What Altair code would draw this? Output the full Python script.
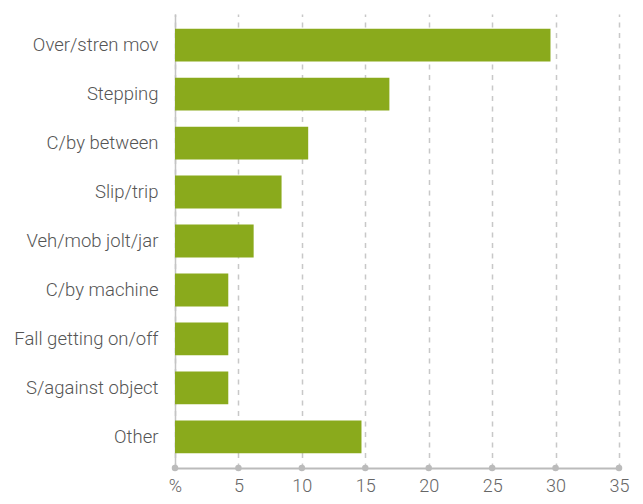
import altair as alt
import pandas as pd

categories = ["Over/stren mov", "Stepping", "C/by between", "Slip/trip",
              "Veh/mob jolt/jar", "C/by machine", "Fall getting on/off",
              "S/against object", "Other"]
values = [29.6, 16.9, 10.5, 8.4, 6.2, 4.2, 4.2, 4.2, 14.7]
tick_values = [0, 5, 10, 15, 20, 25, 30, 35]

bars_df = pd.DataFrame({"cat": categories, "pct": values})
ticks_df = pd.DataFrame({"t": tick_values})

W, H = 444, 454
FONT = "Roboto"

x_scale = alt.Scale(domain=[0, 35], nice=False, zero=True)

bars = alt.Chart(bars_df).mark_bar(color="#8aaa1c").encode(
    x=alt.X("pct:Q", scale=x_scale,
            axis=alt.Axis(values=tick_values, title=None, grid=True,
                          gridDash=[5, 5.5], gridColor="#c8c8c8", gridWidth=1.5,
                          domainColor="#bbbbbb", domainWidth=2, ticks=False,
                          labelExpr="datum.value == 0 ? '%' : datum.label",
                          labelFlush=False,
                          labelFont=FONT, labelFontSize=18, labelFontWeight=300,
                          labelColor="#666666", labelPadding=9)),
    y=alt.Y("cat:N", sort=categories,
            scale=alt.Scale(paddingInner=0.33, paddingOuter=0.3),
            axis=alt.Axis(title=None, ticks=False, domainColor="#c4c4c4",
                          domainWidth=1.5, labelFont=FONT, labelFontSize=18.5,
                          labelFontWeight=300, labelColor="#555555",
                          labelPadding=17, labelLimit=300)),
)

dots = alt.Chart(ticks_df).mark_circle(color="#bbbbbb", opacity=1, size=42).encode(
    x=alt.X("t:Q", scale=x_scale),
    y=alt.value(H),
)

chart = alt.layer(bars, dots).properties(
    width=W, height=H,
    autosize=alt.AutoSizeParams(type="none"),
    padding={"left": 167, "top": 6, "right": 16, "bottom": 28},
).configure_view(stroke=None)

chart.save("out.html", embed_options={"renderer": "svg", "actions": False})
